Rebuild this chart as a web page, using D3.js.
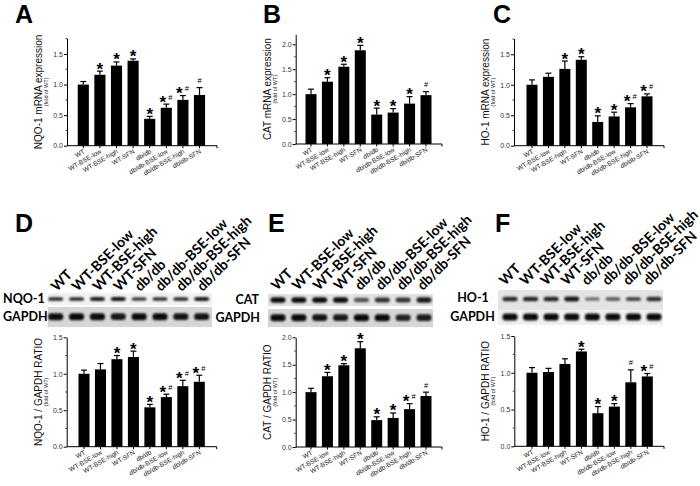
<!DOCTYPE html>
<html>
<head>
<meta charset="utf-8">
<script src="https://cdn.jsdelivr.net/npm/d3@7"></script>
<style>
  html, body { margin: 0; padding: 0; background: #fff; }
  svg { display: block; }
</style>
</head>
<body>
<svg id="chart" width="700" height="486"></svg>
<script>
// ---------------- DATA ----------------
const categories = ["WT", "WT-BSE-low", "WT-BSE-high", "WT-SFN", "db/db", "db/db-BSE-low", "db/db-BSE-high", "db/db-SFN"];

const nqo1Mrna    = [1.00, 1.16, 1.31, 1.39, 0.44, 0.62, 0.75, 0.83];
const nqo1MrnaErr = [0.05, 0.06, 0.06, 0.03, 0.04, 0.06, 0.07, 0.12];
const nqo1MrnaSig = ["", "*", "*", "*", "*", "*#", "*#", "#"];

const catMrna    = [1.00, 1.25, 1.55, 1.88, 0.59, 0.63, 0.81, 0.98];
const catMrnaErr = [0.10, 0.08, 0.05, 0.10, 0.13, 0.08, 0.14, 0.07];
const catMrnaSig = ["", "*", "*", "*", "*", "*", "*", "#"];

const ho1Mrna    = [1.00, 1.13, 1.26, 1.41, 0.39, 0.48, 0.63, 0.81];
const ho1MrnaErr = [0.08, 0.06, 0.13, 0.05, 0.10, 0.07, 0.06, 0.04];
const ho1MrnaSig = ["", "", "*", "*", "*", "*", "*#", "*#"];

const nqo1Ratio    = [1.00, 1.06, 1.20, 1.23, 0.54, 0.68, 0.83, 0.89];
const nqo1RatioErr = [0.05, 0.08, 0.05, 0.08, 0.04, 0.04, 0.08, 0.09];
const nqo1RatioSig = ["", "", "*", "*", "*", "*#", "*#", "*#"];

const catRatio    = [1.00, 1.29, 1.49, 1.80, 0.49, 0.53, 0.69, 0.93];
const catRatioErr = [0.07, 0.07, 0.03, 0.12, 0.06, 0.09, 0.10, 0.07];
const catRatioSig = ["", "*", "*", "*", "*", "*", "*#", "#"];

const ho1Ratio    = [1.00, 1.01, 1.12, 1.29, 0.45, 0.54, 0.87, 0.95];
const ho1RatioErr = [0.07, 0.05, 0.07, 0.03, 0.09, 0.04, 0.17, 0.04];
const ho1RatioSig = ["", "", "", "*", "*", "*", "#", "*#"];

const yTicks2 = [0, 0.5, 1.0, 1.5];
const yTicks3 = [0, 0.5, 1.0, 1.5, 2.0];

// western blot band intensities (relative, per lane)
const bandNqo1  = [0.85, 0.85, 0.90, 0.95, 0.72, 0.80, 0.85, 0.90];
const bandGapdhD = [1.00, 1.00, 1.00, 0.92, 1.00, 1.00, 0.95, 0.95];
const bandCat   = [1.00, 1.00, 1.00, 1.00, 0.55, 0.75, 0.75, 0.90];
const bandGapdhE = [1.00, 1.00, 0.95, 0.90, 1.00, 1.00, 0.85, 0.90];
const bandHo1   = [0.80, 0.85, 0.85, 0.92, 0.35, 0.45, 0.62, 0.78];
const bandGapdhF = [1.00, 1.00, 1.00, 1.00, 1.00, 1.00, 1.00, 1.00];

// ---------------- DRAW ----------------
const svg = d3.select("#chart");
const defs = svg.append("defs");
defs.append("filter").attr("id", "blur").attr("x", "-30%").attr("y", "-80%").attr("width", "160%").attr("height", "260%")
  .append("feGaussianBlur").attr("stdDeviation", 0.9);

const panels = [
  { letter: "A", lx: 15, ly: 23, vals: nqo1Mrna, err: nqo1MrnaErr, sig: nqo1MrnaSig, ticks: yTicks2,
    ax: 67, xEnd: 217, y0: 145.7, yRef: 54, refVal: 1.5, yMax: 1.76, c0: 83.3, c7: 199.5,
    title: "NQO-1 mRNA expression" },
  { letter: "B", lx: 263, ly: 23, vals: catMrna, err: catMrnaErr, sig: catMrnaSig, ticks: yTicks3,
    ax: 295.7, xEnd: 442, y0: 144, yRef: 44.3, refVal: 2.0, yMax: 2.2, c0: 311, c7: 426,
    title: "CAT mRNA expression" },
  { letter: "C", lx: 493, ly: 23, vals: ho1Mrna, err: ho1MrnaErr, sig: ho1MrnaSig, ticks: yTicks2,
    ax: 514, xEnd: 664, y0: 145.7, yRef: 54.3, refVal: 1.5, yMax: 1.76, c0: 532, c7: 647,
    title: "HO-1 mRNA expression" },
  { letter: "D", lx: 15, ly: 231.7, vals: nqo1Ratio, err: nqo1RatioErr, sig: nqo1RatioSig, ticks: yTicks2,
    ax: 66.7, xEnd: 216.7, y0: 446.7, yRef: 337.3, refVal: 1.5, yMax: 1.5, c0: 84, c7: 199.3,
    title: "NQO-1 / GAPDH RATIO",
    blot: { x0: 48, x1: 212, l0: 55.7, l7: 201.7, labY: 292, labDx: 1,
      rows: [
        { name: "NQO-1", band: bandNqo1, top: 293, bot: 305, bg: "#f1f1f1", by: 299, bh: 4, tx: 3, ty: 303, anchor: "start" },
        { name: "GAPDH", band: bandGapdhD, top: 307, bot: 327, bg: "#d6d6d6", by: 316.7, bh: 7, tx: 3, ty: 321, anchor: "start" }
      ] } },
  { letter: "E", lx: 268, ly: 231.7, vals: catRatio, err: catRatioErr, sig: catRatioSig, ticks: yTicks3,
    ax: 295.7, xEnd: 442, y0: 447, yRef: 337.3, refVal: 2.0, yMax: 2.0, c0: 311, c7: 426,
    title: "CAT / GAPDH RATIO",
    blot: { x0: 268, x1: 433, l0: 278, l7: 424, labY: 291, labDx: -1,
      rows: [
        { name: "CAT", band: bandCat, top: 294, bot: 306, bg: "#e2e2e2", by: 300, bh: 5.5, tx: 259, ty: 304, anchor: "end" },
        { name: "GAPDH", band: bandGapdhE, top: 309, bot: 327, bg: "#d6d6d6", by: 317.7, bh: 7, tx: 260, ty: 322, anchor: "end" }
      ] } },
  { letter: "F", lx: 495, ly: 231.7, vals: ho1Ratio, err: ho1RatioErr, sig: ho1RatioSig, ticks: yTicks2,
    ax: 514.3, xEnd: 664, y0: 446.3, yRef: 336, refVal: 1.5, yMax: 1.5, c0: 532, c7: 647.3,
    title: "HO-1 / GAPDH RATIO",
    blot: { x0: 498, x1: 663, l0: 510, l7: 654, labY: 286, labDx: -5,
      rows: [
        { name: "HO-1", band: bandHo1, top: 290, bot: 311, bg: "#e4e4e4", by: 299, bh: 5, tx: 473, ty: 301.7, anchor: "middle" },
        { name: "GAPDH", band: bandGapdhF, top: 310, bot: 325, bg: "#f0f0f0", by: 317, bh: 7, tx: 472.5, ty: 321, anchor: "middle" }
      ] } }
];

const sans = "'Liberation Sans', Arial, sans-serif";
const bold = "Lato, 'Open Sans', sans-serif";

panels.forEach(p => {
  const g = svg.append("g");

  // panel letter
  g.append("text").attr("x", p.lx).attr("y", p.ly).text(p.letter)
    .attr("font-family", sans).attr("font-weight", 700).attr("font-size", 25).attr("fill", "#000");

  // scales
  const step = (p.c7 - p.c0) / 7;
  const x = d3.scaleBand().domain(categories)
    .range([p.c0 - step / 2, p.c7 + step / 2]).paddingInner(0.33).paddingOuter(0.165);
  const pxPerUnit = (p.y0 - p.yRef) / p.refVal;
  const y = d3.scaleLinear().domain([0, p.yMax]).range([p.y0, p.y0 - p.yMax * pxPerUnit]);

  // y axis
  const yAxis = d3.axisLeft(y).tickValues(p.ticks).tickFormat(d3.format(".1f")).tickSize(3).tickSizeOuter(0);
  const ya = g.append("g").attr("transform", `translate(${p.ax},0)`).call(yAxis);
  ya.select(".domain").attr("stroke", "#000").attr("stroke-width", 1);
  ya.selectAll(".tick line").attr("stroke", "#000");
  ya.selectAll(".tick text").attr("font-family", sans).attr("font-size", 7).attr("fill", "#333").attr("x", -4);

  // minor ticks
  const minor = d3.range(0.25, p.yMax + 0.001, 0.5);
  g.selectAll(".minor").data(minor).enter().append("line")
    .attr("x1", p.ax - 1.5).attr("x2", p.ax).attr("y1", d => y(d)).attr("y2", d => y(d))
    .attr("stroke", "#000").attr("stroke-width", 0.8);

  // x axis line
  g.append("line").attr("x1", p.ax).attr("x2", p.xEnd).attr("y1", p.y0).attr("y2", p.y0)
    .attr("stroke", "#000").attr("stroke-width", 1);
  // x ticks
  g.selectAll(".xt").data(categories).enter().append("line")
    .attr("x1", d => x(d) + x.bandwidth() / 2).attr("x2", d => x(d) + x.bandwidth() / 2)
    .attr("y1", p.y0).attr("y2", p.y0 + 2.5).attr("stroke", "#000");
  g.append("line").attr("x1", p.xEnd).attr("x2", p.xEnd).attr("y1", p.y0).attr("y2", p.y0 + 2.5).attr("stroke", "#000");

  // x labels
  g.selectAll(".xl").data(categories).enter().append("text")
    .attr("transform", d => `translate(${x(d) + x.bandwidth() / 2 + 2},${p.y0 + 7}) rotate(-30)`)
    .attr("text-anchor", "end").attr("font-family", sans).attr("font-size", 6.5).attr("fill", "#222")
    .text(d => d);

  // bars
  g.selectAll(".bar").data(p.vals).enter().append("rect")
    .attr("x", (d, i) => x(categories[i])).attr("width", x.bandwidth())
    .attr("y", d => y(d)).attr("height", d => p.y0 - y(d)).attr("fill", "#000");

  // error bars
  const cx = i => x(categories[i]) + x.bandwidth() / 2;
  g.selectAll(".eb").data(p.vals).enter().append("line")
    .attr("x1", (d, i) => cx(i)).attr("x2", (d, i) => cx(i))
    .attr("y1", d => y(d)).attr("y2", (d, i) => y(d + p.err[i]))
    .attr("stroke", "#000").attr("stroke-width", 1.2);
  g.selectAll(".ec").data(p.vals).enter().append("line")
    .attr("x1", (d, i) => cx(i) - 3).attr("x2", (d, i) => cx(i) + 3)
    .attr("y1", (d, i) => y(d + p.err[i])).attr("y2", (d, i) => y(d + p.err[i]))
    .attr("stroke", "#000").attr("stroke-width", 1.2);

  // significance marks
  p.sig.forEach((s, i) => {
    if (!s) return;
    const top = y(p.vals[i] + p.err[i]);
    const hasStar = s.includes("*"), hasHash = s.includes("#");
    if (hasStar) {
      g.append("text").attr("x", cx(i) + (hasHash ? -3.5 : 0)).attr("y", top + 3.5)
        .attr("text-anchor", "middle").attr("font-family", sans).attr("font-weight", 700)
        .attr("font-size", 17).attr("fill", "#000").text("*");
    }
    if (hasHash) {
      g.append("text").attr("x", cx(i) + (hasStar ? 4 : 0)).attr("y", top - 4.5)
        .attr("text-anchor", "middle").attr("font-family", sans)
        .attr("font-size", 7.5).attr("fill", "#000").text("#");
    }
  });

  // y titles
  const midY = (p.y0 + y(p.yMax)) / 2;
  g.append("text").attr("transform", `translate(${p.ax - 25},${midY}) rotate(-90)`)
    .attr("text-anchor", "middle").attr("font-family", sans).attr("font-size", 10).attr("fill", "#111")
    .text(p.title);
  g.append("text").attr("transform", `translate(${p.ax - 19},${midY}) rotate(-90)`)
    .attr("text-anchor", "middle").attr("font-family", sans).attr("font-size", 5.5).attr("fill", "#222")
    .text("(fold of WT)");

  // western blot
  if (p.blot) {
    const b = p.blot;
    const lane = d3.scalePoint().domain(categories).range([b.l0, b.l7]);
    // lane labels
    g.selectAll(".ll").data(categories).enter().append("text")
      .attr("transform", d => `translate(${lane(d) + b.labDx},${b.labY}) rotate(-45)`)
      .attr("font-family", bold).attr("font-weight", 700).attr("font-size", 14).attr("fill", "#000")
      .text(d => d);
    b.rows.forEach(r => {
      g.append("rect").attr("x", b.x0).attr("y", r.top).attr("width", b.x1 - b.x0).attr("height", r.bot - r.top)
        .attr("fill", r.bg);
      g.selectAll(null).data(r.band).enter().append("rect")
        .attr("x", (d, i) => lane(categories[i]) - 7.5).attr("width", 15)
        .attr("y", d => r.by - r.bh * (0.55 + 0.45 * d) / 2).attr("height", d => r.bh * (0.55 + 0.45 * d))
        .attr("rx", 3).attr("fill", "#000").attr("opacity", d => 0.25 + 0.7 * d)
        .attr("filter", "url(#blur)");
      g.append("text").attr("x", r.tx).attr("y", r.ty).attr("text-anchor", r.anchor)
        .attr("font-family", bold).attr("font-weight", 700).attr("font-size", 12.5).attr("fill", "#000")
        .text(r.name);
    });
  }
});
</script>
</body>
</html>
